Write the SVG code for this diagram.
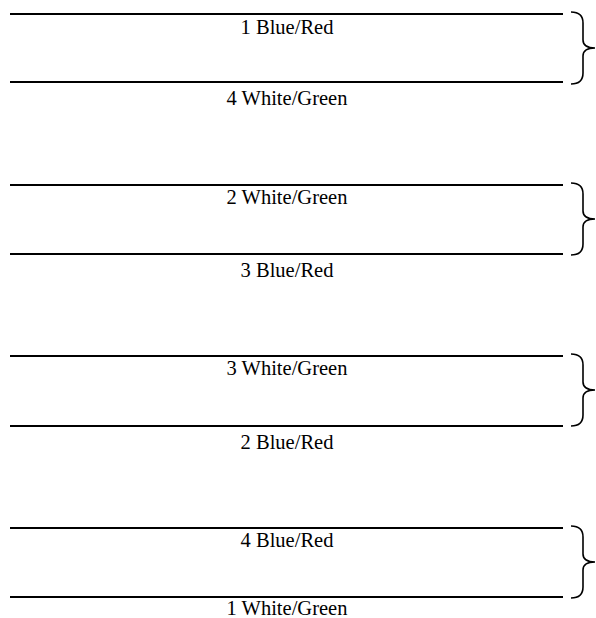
<svg xmlns="http://www.w3.org/2000/svg" width="596" height="618" viewBox="0 0 596 618">
<style>
.ln{stroke:#000;stroke-width:2;fill:none}
.br{stroke:#000;stroke-width:1.6;fill:none}
text{font-family:"Liberation Serif","Times New Roman",serif;font-size:20.5px;fill:#000;text-anchor:middle}
</style>
<defs>
<path id="brace" class="br" d="M571,0 Q583,0 583,11 L583,28 Q583,36 595,36 Q583,36 583,44 L583,61 Q583,72 571,72"/>
</defs>
<rect width="596" height="618" fill="#fff"/>
<g id="pair1">
<line class="ln" x1="10" y1="14" x2="563" y2="14"/>
<line class="ln" x1="10" y1="82" x2="563" y2="82"/>
<text x="287" y="34">1 Blue/Red</text>
<text x="287" y="105">4 White/Green</text>
<use href="#brace" y="12"/>
</g>
<g id="pair2">
<line class="ln" x1="10" y1="185" x2="563" y2="185"/>
<line class="ln" x1="10" y1="254" x2="563" y2="254"/>
<text x="287" y="204">2 White/Green</text>
<text x="287" y="277">3 Blue/Red</text>
<use href="#brace" y="183"/>
</g>
<g id="pair3">
<line class="ln" x1="10" y1="356" x2="563" y2="356"/>
<line class="ln" x1="10" y1="426" x2="563" y2="426"/>
<text x="287" y="375">3 White/Green</text>
<text x="287" y="449">2 Blue/Red</text>
<use href="#brace" y="354"/>
</g>
<g id="pair4">
<line class="ln" x1="10" y1="528" x2="563" y2="528"/>
<line class="ln" x1="10" y1="597" x2="563" y2="597"/>
<text x="287" y="547">4 Blue/Red</text>
<text x="287" y="615">1 White/Green</text>
<use href="#brace" y="526"/>
</g>
<g id="connectors"></g>
</svg>
